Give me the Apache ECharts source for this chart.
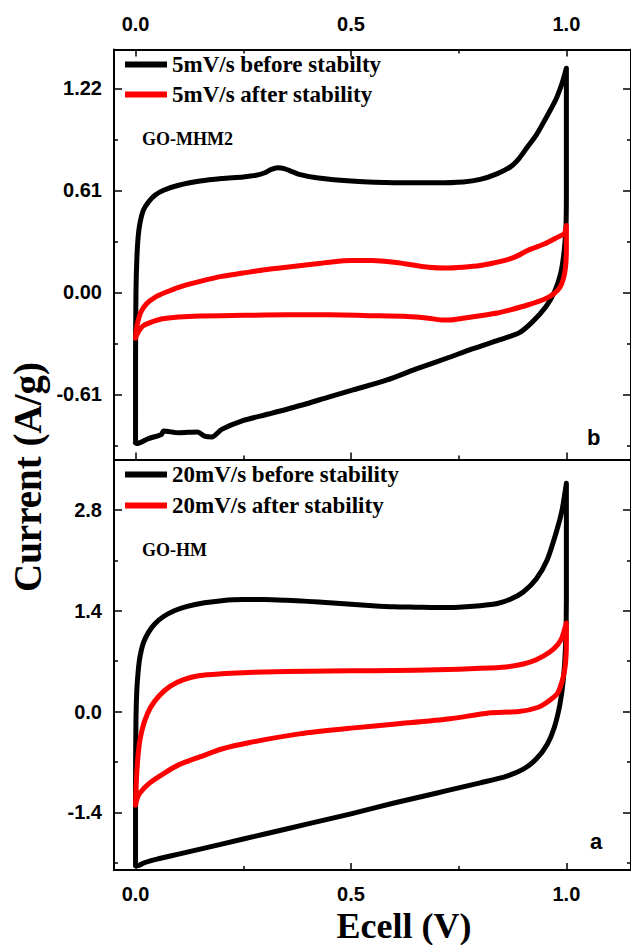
<!DOCTYPE html>
<html>
<head>
<meta charset="utf-8">
<script src="https://cdn.jsdelivr.net/npm/echarts@6/dist/echarts.min.js"></script>
<style>
html,body{margin:0;padding:0;background:#fff;}
#c{width:631px;height:945px;}
</style>
</head>
<body>
<div id="c"></div>
<script>
// ---------- DATA ----------
var seriesNames = ['5mV/s before stabilty', '5mV/s after stability', '20mV/s before stability', '20mV/s after stability'];
var xTicks = [0, 0.5, 1.0];
var xMinorTicks = [0.25, 0.75];
var topTicks = [-0.61, 0, 0.61, 1.22];
var topMinorTicks = [-0.915, -0.305, 0.305, 0.915];
var botTicks = [-1.4, 0, 1.4, 2.8];
var botMinorTicks = [-2.1, -0.7, 0.7, 2.1];

// panel b, 5 mV/s before stability (black)
var topBeforeE = [0.000, 0.000, 0.001, 0.003, 0.006, 0.010, 0.018, 0.030, 0.045, 0.065, 0.10, 0.15, 0.20, 0.25, 0.28, 0.30, 0.315, 0.33, 0.345, 0.36, 0.38, 0.42, 0.50, 0.60, 0.70, 0.76, 0.80, 0.84, 0.87, 0.89, 0.91, 0.93, 0.95, 0.975, 0.99, 1.000,
  1.000, 0.999, 0.995, 0.987, 0.972, 0.952, 0.92, 0.89, 0.844, 0.78, 0.727, 0.65, 0.584, 0.505, 0.45, 0.387, 0.309, 0.246, 0.20, 0.177, 0.16, 0.144, 0.10, 0.065, 0.06, 0.03, 0.003, 0.000];
var topBeforeI = [-0.90, -0.40, 0.00, 0.20, 0.33, 0.41, 0.49, 0.54, 0.58, 0.61, 0.64, 0.665, 0.68, 0.69, 0.70, 0.715, 0.735, 0.745, 0.74, 0.725, 0.705, 0.685, 0.665, 0.655, 0.655, 0.66, 0.675, 0.71, 0.75, 0.80, 0.87, 0.94, 1.03, 1.15, 1.25, 1.34,
  0.60, 0.39, 0.25, 0.115, 0.00, -0.088, -0.18, -0.243, -0.285, -0.34, -0.39, -0.46, -0.524, -0.584, -0.625, -0.674, -0.728, -0.77, -0.82, -0.865, -0.86, -0.835, -0.84, -0.83, -0.85, -0.875, -0.905, -0.90];

// panel b, 5 mV/s after stability (red)
var topAfterE = [0.000, 0.002, 0.006, 0.012, 0.025, 0.045, 0.07, 0.10, 0.15, 0.20, 0.25, 0.30, 0.35, 0.40, 0.45, 0.50, 0.55, 0.60, 0.64, 0.68, 0.72, 0.76, 0.80, 0.84, 0.88, 0.91, 0.95, 0.98, 0.995, 1.000,
  1.000, 0.998, 0.993, 0.985, 0.97, 0.95, 0.91, 0.87, 0.84, 0.80, 0.76, 0.73, 0.71, 0.68, 0.63, 0.55, 0.45, 0.35, 0.25, 0.15, 0.10, 0.06, 0.035, 0.018, 0.008, 0.002, 0.000];
var topAfterI = [-0.275, -0.22, -0.17, -0.12, -0.07, -0.03, 0.00, 0.03, 0.065, 0.095, 0.115, 0.135, 0.15, 0.165, 0.18, 0.19, 0.19, 0.18, 0.165, 0.15, 0.145, 0.15, 0.16, 0.18, 0.21, 0.25, 0.29, 0.33, 0.35, 0.40,
  0.25, 0.15, 0.08, 0.03, -0.01, -0.04, -0.076, -0.105, -0.124, -0.14, -0.155, -0.165, -0.165, -0.155, -0.145, -0.14, -0.135, -0.135, -0.138, -0.142, -0.148, -0.16, -0.18, -0.20, -0.23, -0.26, -0.275];

// panel a, 20 mV/s before stability (black)
var botBeforeE = [0.000, 0.000, 0.001, 0.003, 0.006, 0.010, 0.018, 0.030, 0.045, 0.065, 0.09, 0.12, 0.16, 0.20, 0.25, 0.30, 0.35, 0.40, 0.45, 0.50, 0.55, 0.60, 0.65, 0.70, 0.75, 0.80, 0.84, 0.87, 0.90, 0.93, 0.955, 0.978, 0.99, 1.000,
  1.000, 0.998, 0.993, 0.985, 0.972, 0.955, 0.93, 0.90, 0.86, 0.80, 0.75, 0.70, 0.60, 0.50, 0.40, 0.30, 0.20, 0.10, 0.05, 0.02, 0.005, 0.000];
var botBeforeI = [-2.14, -1.0, -0.1, 0.3, 0.55, 0.75, 0.95, 1.1, 1.22, 1.32, 1.40, 1.46, 1.51, 1.54, 1.555, 1.555, 1.545, 1.53, 1.51, 1.49, 1.47, 1.455, 1.45, 1.445, 1.45, 1.47, 1.50, 1.56, 1.66, 1.84, 2.10, 2.52, 2.80, 3.17,
  1.55, 0.90, 0.45, 0.10, -0.22, -0.46, -0.66, -0.80, -0.90, -0.99, -1.06, -1.13, -1.27, -1.42, -1.56, -1.70, -1.84, -1.98, -2.05, -2.10, -2.14, -2.14];

// panel a, 20 mV/s after stability (red)
var botAfterE = [0.000, 0.002, 0.005, 0.010, 0.02, 0.035, 0.055, 0.08, 0.11, 0.15, 0.20, 0.25, 0.30, 0.40, 0.50, 0.60, 0.70, 0.80, 0.86, 0.90, 0.93, 0.96, 0.98, 0.99, 1.000,
  1.000, 0.999, 0.996, 0.99, 0.98, 0.96, 0.935, 0.89, 0.82, 0.73, 0.61, 0.50, 0.38, 0.265, 0.20, 0.149, 0.10, 0.068, 0.033, 0.010, 0.003, 0.000];
var botAfterI = [-1.30, -0.95, -0.67, -0.40, -0.15, 0.06, 0.22, 0.35, 0.44, 0.50, 0.525, 0.54, 0.55, 0.56, 0.565, 0.57, 0.58, 0.60, 0.62, 0.66, 0.72, 0.82, 0.93, 1.03, 1.23,
  0.95, 0.75, 0.58, 0.42, 0.26, 0.15, 0.06, 0.00, -0.02, -0.10, -0.17, -0.23, -0.31, -0.43, -0.52, -0.63, -0.74, -0.85, -0.99, -1.13, -1.22, -1.30];

// ---------- CHART ----------
function pairs(xs, ys) { var out = []; for (var i = 0; i < xs.length; i++) out.push([xs[i], ys[i]]); return out; }

var BLACK = '#000000', RED = '#ff0000';
var LEFT = 114, GRID_W = 518;
var tickFont = { fontFamily: 'Liberation Sans, Arial', fontWeight: 'bold', fontSize: 20, color: '#000' };
var serif = 'Liberation Serif, Times New Roman';

var X_MIN = -0.05, X_MAX = 1.15;
var TOP_MIN = -1.0, TOP_MAX = 1.452;
var BOT_MIN = -2.2, BOT_MAX = 3.5;

function xAxisSet(grid, pos, labels, showTicks) {
  var main = {
    type: 'value', gridIndex: grid, position: pos, min: X_MIN, max: X_MAX,
    axisLine: { show: true, onZero: false, lineStyle: { color: '#000', width: 2 } },
    splitLine: { show: false },
    axisTick: { show: showTicks, inside: true, length: 7, customValues: xTicks, lineStyle: { color: '#000', width: 1.5 } },
    axisLabel: labels ? Object.assign({ show: true, margin: pos === 'top' ? 16 : 14, customValues: xTicks, formatter: function (v) { return v.toFixed(1); } }, tickFont) : { show: false }
  };
  var minor = {
    type: 'value', gridIndex: grid, position: pos, min: X_MIN, max: X_MAX,
    axisLine: { show: false, onZero: false }, splitLine: { show: false }, axisLabel: { show: false },
    axisTick: { show: showTicks, inside: true, length: 4, customValues: xMinorTicks, lineStyle: { color: '#000', width: 1.5 } }
  };
  return [main, minor];
}

function yAxisSet(grid, min, max, majors, minors, digits) {
  var base = { type: 'value', gridIndex: grid, min: min, max: max, splitLine: { show: false } };
  var leftMain = Object.assign({}, base, {
    position: 'left',
    axisLine: { show: true, onZero: false, lineStyle: { color: '#000', width: 2 } },
    axisTick: { show: true, inside: true, length: 8, customValues: majors, lineStyle: { color: '#000', width: 1.5 } },
    axisLabel: Object.assign({ show: true, margin: 12, customValues: majors, formatter: function (v) { return (Math.abs(v) < 1e-9 ? 0 : v).toFixed(digits); } }, tickFont)
  });
  var leftMinor = Object.assign({}, base, {
    position: 'left', axisLine: { show: false, onZero: false }, axisLabel: { show: false },
    axisTick: { show: true, inside: true, length: 4, customValues: minors, lineStyle: { color: '#000', width: 1.5 } }
  });
  var rightMain = Object.assign({}, base, {
    position: 'right',
    axisLine: { show: true, onZero: false, lineStyle: { color: '#000', width: 2 } },
    axisTick: { show: true, inside: true, length: 8, customValues: majors, lineStyle: { color: '#000', width: 1.5 } },
    axisLabel: { show: false }
  });
  var rightMinor = Object.assign({}, base, {
    position: 'right', axisLine: { show: false, onZero: false }, axisLabel: { show: false },
    axisTick: { show: true, inside: true, length: 4, customValues: minors, lineStyle: { color: '#000', width: 1.5 } }
  });
  return [leftMain, leftMinor, rightMain, rightMinor];
}

var xAxes = [].concat(
  xAxisSet(0, 'top', true, true),      // 0,1
  xAxisSet(0, 'bottom', false, true),  // 2,3
  xAxisSet(1, 'top', false, false),    // 4,5
  xAxisSet(1, 'bottom', true, true)    // 6,7
);
var yAxes = [].concat(
  yAxisSet(0, TOP_MIN, TOP_MAX, topTicks, topMinorTicks, 2), // 0..3
  yAxisSet(1, BOT_MIN, BOT_MAX, botTicks, botMinorTicks, 1)  // 4..7
);

function lineSeries(name, xi, yi, color, data) {
  return {
    name: name, type: 'line', xAxisIndex: xi, yAxisIndex: yi, data: data,
    showSymbol: false, symbol: 'none', smooth: 0.25, clip: true,
    lineStyle: { color: color, width: 5, cap: 'round', join: 'round' },
    itemStyle: { color: color }
  };
}

var legendText = { fontFamily: serif, fontWeight: 'bold', fontSize: 23, color: '#000', lineHeight: 23 };

var option = {
  animation: false,
  backgroundColor: '#ffffff',
  grid: [
    { left: LEFT, top: 49.5, width: GRID_W, height: 410 },
    { left: LEFT, top: 459.5, width: GRID_W, height: 410.5 }
  ],
  xAxis: xAxes,
  yAxis: yAxes,
  legend: [
    { data: [seriesNames[0], seriesNames[1]], orient: 'vertical', left: 125, top: 53, padding: 0, itemGap: 7,
      icon: 'rect', itemWidth: 42, itemHeight: 6, textStyle: legendText, selectedMode: false },
    { data: [seriesNames[2], seriesNames[3]], orient: 'vertical', left: 125, top: 463, padding: 0, itemGap: 8,
      icon: 'rect', itemWidth: 42, itemHeight: 6, textStyle: legendText, selectedMode: false }
  ],
  series: [
    lineSeries(seriesNames[0], 0, 0, BLACK, pairs(topBeforeE, topBeforeI)),
    lineSeries(seriesNames[1], 0, 0, RED, pairs(topAfterE, topAfterI)),
    lineSeries(seriesNames[2], 6, 4, BLACK, pairs(botBeforeE, botBeforeI)),
    lineSeries(seriesNames[3], 6, 4, RED, pairs(botAfterE, botAfterI))
  ],
  graphic: [
    { type: 'text', left: 142, top: 130, style: { text: 'GO-MHM2', font: 'bold 18px ' + serif, fill: '#000' } },
    { type: 'text', left: 142, top: 541, style: { text: 'GO-HM', font: 'bold 18px ' + serif, fill: '#000' } },
    { type: 'text', left: 587, top: 426, style: { text: 'b', font: 'bold 22px Liberation Sans, Arial', fill: '#000' } },
    { type: 'text', left: 590, top: 830, style: { text: 'a', font: 'bold 22px Liberation Sans, Arial', fill: '#000' } },
    { type: 'text', x: 27, y: 477, rotation: Math.PI / 2,
      style: { text: 'Current (A/g)', font: 'bold 39px ' + serif, fill: '#000', align: 'center', verticalAlign: 'middle' } },
    { type: 'text', x: 404, y: 926,
      style: { text: 'Ecell (V)', font: 'bold 36px ' + serif, fill: '#000', align: 'center', verticalAlign: 'middle' } }
  ]
};

var chart = echarts.init(document.getElementById('c'), null, { renderer: 'svg', width: 631, height: 945 });
chart.setOption(option);
</script>
</body>
</html>
